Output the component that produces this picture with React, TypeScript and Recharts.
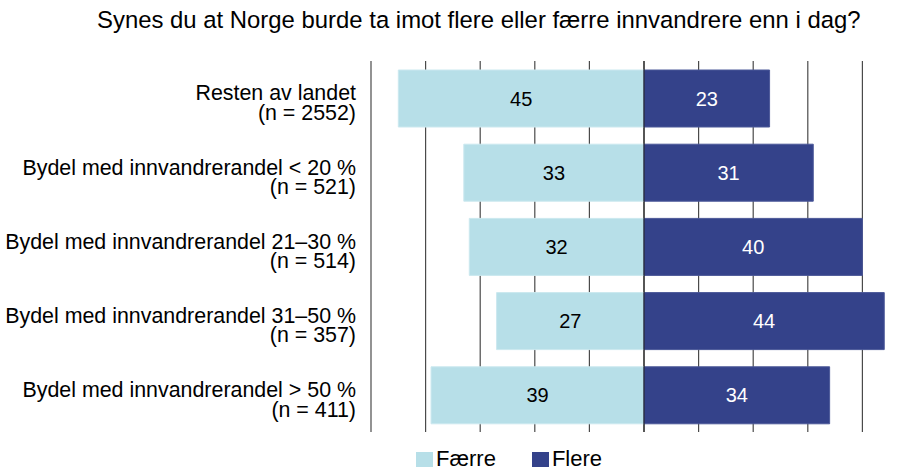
import React from "react";
import {
  BarChart,
  Bar,
  XAxis,
  YAxis,
  CartesianGrid,
  ReferenceLine,
  LabelList,
  Legend,
} from "recharts";

const title = "Synes du at Norge burde ta imot flere eller færre innvandrere enn i dag?";

const categories = [
  "Resten av landet",
  "Bydel med innvandrerandel < 20 %",
  "Bydel med innvandrerandel 21–30 %",
  "Bydel med innvandrerandel 31–50 %",
  "Bydel med innvandrerandel > 50 %",
];
const nLabels = ["(n = 2552)", "(n = 521)", "(n = 514)", "(n = 357)", "(n = 411)"];
const faerre = [45, 33, 32, 27, 39];
const flere = [23, 31, 40, 44, 34];
const xTicks = [-50, -40, -30, -20, -10, 0, 10, 20, 30, 40, 50];

const seriesNames = { faerre: "Færre", flere: "Flere" };
const seriesOrder = [seriesNames.faerre, seriesNames.flere];
const colors = { faerre: "#b7dfe8", flere: "#34428a" };

const data = categories.map((c, i) => ({
  name: c,
  n: nLabels[i],
  faerre: -faerre[i],
  flere: flere[i],
}));

const FONT = "'Liberation Sans', Arial, Helvetica, sans-serif";

const YTick = (props: any) => {
  const { x, y, payload } = props;
  const idx = categories.indexOf(payload.value);
  return (
    <g>
      <text x={x} y={y + 2.2} textAnchor="end" fontSize={21.4} fontFamily={FONT} fill="#000">
        {payload.value}
      </text>
      <text x={x} y={y + 21.6} textAnchor="end" fontSize={21.4} fontFamily={FONT} fill="#000">
        {nLabels[idx]}
      </text>
    </g>
  );
};

const EmptyTick = () => <g />;

const LegendContent = (props: any) => {
  const payload = [...(props.payload || [])].sort(
    (a: any, b: any) => seriesOrder.indexOf(a.value) - seriesOrder.indexOf(b.value)
  );
  return (
    <div style={{ display: "flex", alignItems: "center", fontFamily: FONT, fontSize: 22, lineHeight: "22px" }}>
      {payload.map((p: any, i: number) => (
        <div key={p.value} style={{ display: "flex", alignItems: "center", marginRight: i === 0 ? 36 : 0 }}>
          <span style={{ display: "inline-block", width: 17, height: 15, background: p.color, marginRight: 3 }} />
          <span style={{ color: "#000" }}>{p.value}</span>
        </div>
      ))}
    </div>
  );
};

export default function App() {
  return (
    <div style={{ position: "absolute", left: 0, top: 0, width: 910, height: 470, background: "#fff", overflow: "hidden" }}>
      <div
        style={{
          position: "absolute",
          left: 97,
          top: 8,
          fontFamily: FONT,
          fontSize: 23.9,
          lineHeight: "24px",
          whiteSpace: "nowrap",
          color: "#000",
        }}
      >
        {title}
      </div>
      <BarChart
        width={910}
        height={470}
        data={data}
        layout="vertical"
        stackOffset="sign"
        margin={{ top: 61, right: -7, bottom: 38, left: 0 }}
        barSize={57}
      >
        <CartesianGrid horizontal={false} vertical={true} stroke="#4a4a4a" strokeWidth={1.2} />
        <XAxis
          type="number"
          domain={[-50, 50]}
          ticks={xTicks}
          interval={0}
          height={0}
          tick={<EmptyTick />}
          axisLine={false}
          tickLine={false}
        />
        <YAxis
          type="category"
          dataKey="name"
          width={371}
          axisLine={false}
          tickLine={false}
          tickSize={0}
          tickMargin={15}
          tick={<YTick />}
          interval={0}
        />
        <Legend
          layout="horizontal"
          verticalAlign="middle"
          align="center"
          itemSorter={null as any}
          content={<LegendContent />}
          wrapperStyle={{ position: "absolute", left: 416, top: 448, width: "auto", height: 22 }}
        />
        <Bar
          dataKey="faerre"
          name={seriesNames.faerre}
          stackId="a"
          fill={colors.faerre}
          stroke="#cbe8ef"
          strokeWidth={1}
          isAnimationActive={false}
        >
          <LabelList
            dataKey="faerre"
            position="center"
            formatter={(v: any) => Math.abs(Number(v))}
            fill="#000"
            fontSize={20}
            fontFamily={FONT}
          />
        </Bar>
        <Bar
          dataKey="flere"
          name={seriesNames.flere}
          stackId="a"
          fill={colors.flere}
          stroke="#4b5898"
          strokeWidth={1}
          isAnimationActive={false}
        >
          <LabelList
            dataKey="flere"
            position="center"
            formatter={(v: any) => Math.abs(Number(v))}
            fill="#fff"
            fontSize={20}
            fontFamily={FONT}
          />
        </Bar>
        <ReferenceLine x={0} stroke="#1a1a1a" strokeWidth={1} />
      </BarChart>
    </div>
  );
}
